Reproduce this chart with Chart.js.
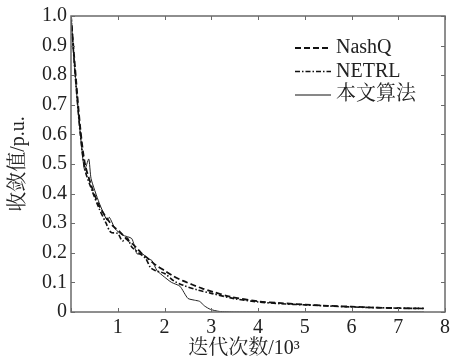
<!DOCTYPE html>
<html>
<head>
<meta charset="utf-8">
<script src="https://cdn.jsdelivr.net/npm/chart.js@4.4.1/dist/chart.umd.min.js"></script>
<style>
  html, body { margin: 0; padding: 0; background: #fff; }
  #wrap { width: 454px; height: 360px; }
</style>
</head>
<body>
<div id="wrap"><canvas id="chart" width="454" height="360"></canvas></div>
<script>
// iterations (x10^3) and converged values (p.u.)
const nashqX = [0, 0.1, 0.2, 0.3, 0.45, 0.6, 0.75, 0.9, 1.05, 1.2, 1.35, 1.5, 1.65, 1.8, 2.0, 2.2, 2.4, 2.6, 2.8, 3.0, 3.4, 4.0, 4.5, 5.0, 5.5, 6.0, 6.5, 7.0, 7.55];
const nashqY = [1.0, 0.8, 0.62, 0.5, 0.42, 0.36, 0.32, 0.29, 0.27, 0.245, 0.225, 0.2, 0.18, 0.16, 0.14, 0.12, 0.105, 0.092, 0.08, 0.07, 0.052, 0.036, 0.03, 0.025, 0.021, 0.018, 0.015, 0.013, 0.012];

const netrlX = [0, 0.1, 0.2, 0.3, 0.45, 0.6, 0.75, 0.85, 1.0, 1.1, 1.2, 1.3, 1.45, 1.6, 1.7, 1.8, 2.0, 2.2, 2.4, 2.7, 3.0, 3.5, 4.0, 4.5, 5.0, 6.0, 7.0, 7.55];
const netrlY = [1.0, 0.78, 0.6, 0.48, 0.41, 0.35, 0.3, 0.27, 0.265, 0.24, 0.25, 0.22, 0.2, 0.18, 0.15, 0.14, 0.13, 0.105, 0.09, 0.075, 0.063, 0.045, 0.034, 0.028, 0.024, 0.017, 0.013, 0.012];

const oursX = [0, 0.1, 0.2, 0.29, 0.38, 0.43, 0.6, 0.77, 0.82, 0.95, 1.1, 1.3, 1.41, 1.54, 1.65, 1.73, 1.84, 2.0, 2.15, 2.33, 2.5, 2.64, 2.75, 2.86, 2.98, 3.17, 3.5, 4.0, 5.0, 6.0, 7.0, 7.55];
const oursY = [1.0, 0.78, 0.6, 0.48, 0.517, 0.45, 0.37, 0.31, 0.32, 0.28, 0.26, 0.248, 0.197, 0.195, 0.18, 0.174, 0.14, 0.118, 0.1, 0.087, 0.046, 0.04, 0.036, 0.02, 0.009, 0.002, 0, 0, 0, 0, 0, 0];

const seriesNames = ['NashQ', 'NETRL', '本文算法'];
const xTicks = [0, 1, 2, 3, 4, 5, 6, 7, 8];
const yTicks = [0, 0.1, 0.2, 0.3, 0.4, 0.5, 0.6, 0.7, 0.8, 0.9, 1.0];

const serif = '"Liberation Serif", "Noto Serif CJK SC", serif';
const axisColor = '#6a6a6a';

function toPoints(xs, ys) {
    return xs.map((x, i) => ({ x: x, y: ys[i] }));
}

// box, inward ticks on all four sides
const frame = {
    id: 'frame',
    afterDraw(chart) {
        const ctx = chart.ctx;
        const a = chart.chartArea;
        const xs = chart.scales.x;
        const ys = chart.scales.y;
        ctx.save();
        ctx.strokeStyle = axisColor;
        ctx.lineWidth = 1.5;
        ctx.strokeRect(a.left, a.top, a.right - a.left, a.bottom - a.top);
        ctx.lineWidth = 1;
        ctx.beginPath();
        xTicks.forEach(v => {
            const px = Math.round(xs.getPixelForValue(v)) + 0.5;
            ctx.moveTo(px, a.bottom); ctx.lineTo(px, a.bottom - 4);
            ctx.moveTo(px, a.top); ctx.lineTo(px, a.top + 4);
        });
        yTicks.forEach(v => {
            const py = Math.round(ys.getPixelForValue(v)) + 0.5;
            ctx.moveTo(a.left, py); ctx.lineTo(a.left + 4, py);
            ctx.moveTo(a.right, py); ctx.lineTo(a.right - 4, py);
        });
        ctx.stroke();
        ctx.restore();
    }
};

// legend and axis titles
const labels = {
    id: 'labels',
    afterDraw(chart) {
        const ctx = chart.ctx;
        ctx.save();
        ctx.fillStyle = '#222';
        ctx.font = '20px ' + serif;
        ctx.textBaseline = 'middle';
        chart.data.datasets.forEach((ds, i) => {
            const y = 48 + i * 23.5;
            ctx.beginPath();
            ctx.strokeStyle = '#111';
            ctx.lineWidth = ds.borderWidth;
            ctx.setLineDash(ds.borderDash || []);
            ctx.moveTo(295, y);
            ctx.lineTo(331, y);
            ctx.stroke();
            ctx.setLineDash([]);
            ctx.textAlign = 'left';
            ctx.fillText(ds.label, 336, y);
        });

        ctx.textAlign = 'center';
        ctx.fillText('迭代次数/10³', 244, 349);

        ctx.translate(19, 164);
        ctx.rotate(-Math.PI / 2);
        ctx.fillText('收敛值/p.u.', 0, 0);
        ctx.restore();
    }
};

new Chart(document.getElementById('chart'), {
    type: 'line',
    data: {
        datasets: [{
            label: seriesNames[0],
            data: toPoints(nashqX, nashqY),
            borderColor: '#111',
            borderWidth: 1.8,
            borderDash: [6, 3],
            pointRadius: 0,
            tension: 0.3,
            fill: false
        }, {
            label: seriesNames[1],
            data: toPoints(netrlX, netrlY),
            borderColor: '#111',
            borderWidth: 1.6,
            borderDash: [5, 2, 1.5, 2],
            pointRadius: 0,
            tension: 0.3,
            fill: false
        }, {
            label: seriesNames[2],
            data: toPoints(oursX, oursY),
            borderColor: '#222',
            borderWidth: 1,
            pointRadius: 0,
            tension: 0.2,
            fill: false
        }]
    },
    options: {
        responsive: false,
        animation: false,
        layout: { padding: { top: 15, right: 7, left: 0, bottom: 0 } },
        plugins: {
            legend: { display: false },
            tooltip: { enabled: false }
        },
        scales: {
            x: {
                type: 'linear',
                min: 0,
                max: 8,
                afterBuildTicks: s => { s.ticks = xTicks.map(v => ({ value: v })); },
                afterFit: s => { s.height = 48; },
                grid: { display: false, drawTicks: false },
                border: { display: false },
                ticks: {
                    color: '#222',
                    font: { family: serif, size: 20 },
                    padding: 4,
                    maxRotation: 0,
                    callback: v => v === 0 ? '' : String(v)
                }
            },
            y: {
                min: 0,
                max: 1,
                afterBuildTicks: s => { s.ticks = yTicks.map(v => ({ value: v })); },
                afterFit: s => { s.width = 71; },
                grid: { display: false, drawTicks: false },
                border: { display: false },
                ticks: {
                    color: '#222',
                    font: { family: serif, size: 20 },
                    padding: 4,
                    callback: v => v === 0 ? '0' : v.toFixed(1)
                }
            }
        }
    },
    plugins: [frame, labels]
});
</script>
</body>
</html>
